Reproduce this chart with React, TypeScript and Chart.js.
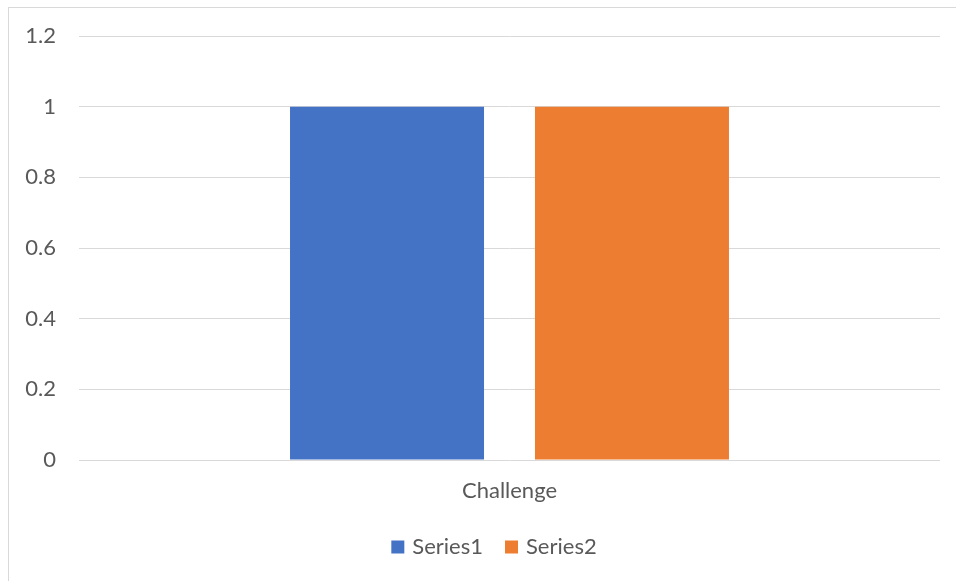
import React, { useEffect, useRef } from "react";
import { Chart, registerables } from "chart.js";

Chart.register(...registerables);

const categories = ["Challenge"];
const series1 = [1];
const series2 = [1];
const yTicks = [0, 0.2, 0.4, 0.6, 0.8, 1, 1.2];

const FONT = "Lato, 'Open Sans', sans-serif";
const TEXT = "#595959";
const SIZE = 22;

// nudges the bottom legend row sideways after layout
const legendShift = {
  id: "legendShift",
  afterLayout(chart: any) {
    const lg = chart.legend;
    if (!lg) return;
    lg.left += 21;
    lg.right += 21;
  },
};

export default function App() {
  const ref = useRef<HTMLCanvasElement | null>(null);

  useEffect(() => {
    if (!ref.current) return;
    const chart = new Chart(ref.current, {
      type: "bar",
      data: {
        labels: categories,
        datasets: [
          { label: "Series1", data: series1, backgroundColor: "#4472C4", categoryPercentage: 0.569, barPercentage: 0.792 },
          { label: "Series2", data: series2, backgroundColor: "#ED7D31", categoryPercentage: 0.569, barPercentage: 0.792 },
        ],
      },
      plugins: [legendShift],
      options: {
        animation: false,
        responsive: false,
        layout: { padding: { top: 28, right: 16, bottom: 13, left: 0 } },
        plugins: {
          tooltip: { enabled: false },
          legend: {
            position: "bottom",
            labels: {
              font: { family: FONT, size: SIZE },
              color: TEXT,
              boxWidth: 7,
              boxHeight: 7,
              padding: 25,
              // small filled swatches, outlined in their own colour
              generateLabels: (c: any) =>
                Chart.defaults.plugins.legend.labels.generateLabels(c).map((item: any) => ({
                  ...item,
                  lineWidth: 6,
                  strokeStyle: item.fillStyle,
                })),
            },
          },
        },
        scales: {
          x: {
            grid: { display: false },
            border: { display: false },
            ticks: { font: { family: FONT, size: SIZE }, color: TEXT, padding: 10 },
            afterFit: (s: any) => { s.height = 51; },
          },
          y: {
            min: 0,
            max: 1.2,
            afterBuildTicks: (s: any) => { s.ticks = yTicks.map((v) => ({ value: v })); },
            grid: { color: "#d9d9d9", lineWidth: 1, drawTicks: false },
            border: { display: false },
            ticks: {
              font: { family: FONT, size: SIZE },
              color: TEXT,
              padding: 23,
              callback: (v: any) => String(Math.round(Number(v) * 10) / 10),
            },
            afterFit: (s: any) => {
              s.width = 70;
              s.paddingTop = 0;
              s.paddingBottom = 0;
            },
          },
        },
      },
    });
    return () => chart.destroy();
  }, []);

  return (
    <div
      style={{
        position: "absolute",
        left: 8,
        top: 7,
        width: 947,
        height: 573,
        borderLeft: "1px solid #d9d9d9",
        borderTop: "1px solid #d9d9d9",
        background: "#fff",
      }}
    >
      <canvas ref={ref} width={947} height={573} style={{ display: "block" }} />
    </div>
  );
}
